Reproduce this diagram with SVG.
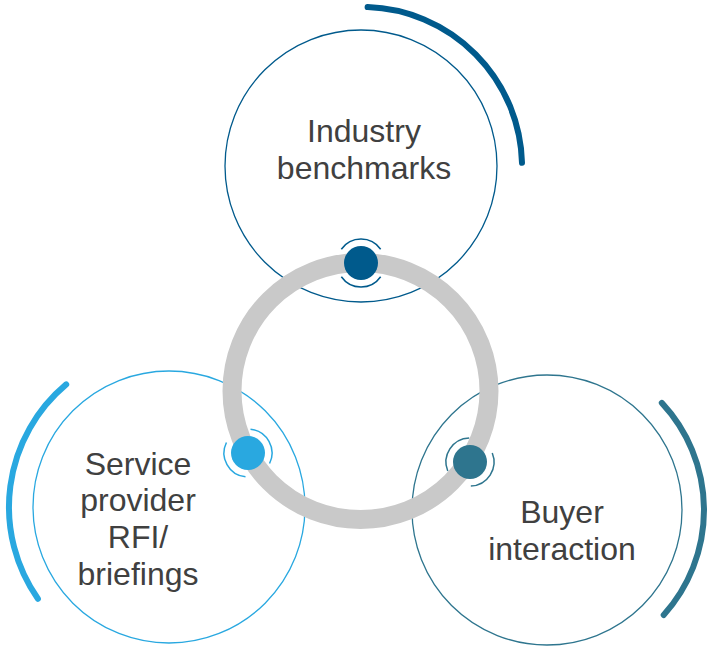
<svg xmlns="http://www.w3.org/2000/svg" xmlns:xlink="http://www.w3.org/1999/xlink" width="710" height="647" viewBox="0 0 710 647">
  <style>
    .outline { fill: none; stroke-width: 1.3; }
    .outer { fill: none; stroke-width: 6; stroke-linecap: round; }
    .label { font-family: "Liberation Sans", Arial, sans-serif; font-size: 32px; fill: #404040; text-anchor: middle; }
    .ring { fill: none; stroke: #C9C9C9; stroke-width: 19; }
    .c1 { stroke: #005A8C; }
    .c2 { stroke: #29A8E0; }
    .c3 { stroke: #2E758E; }
  </style>
  <defs>
    <g id="halo" fill="none" stroke-width="1.5">
      <path d="M-19.66,-13.77 A24,24 0 0 1 19.66,-13.77"/>
      <path d="M19.66,13.77 A24,24 0 0 1 -19.66,13.77"/>
    </g>
  </defs>

  <g id="node-industry">
    <circle class="outline c1" cx="361" cy="166" r="136"/>
    <path class="outer c1" d="M367.6,7.1 A160,160 0 0 1 522,162.8"/>
    <text class="label" x="364" y="142">Industry</text>
    <text class="label" x="364" y="179">benchmarks</text>
  </g>

  <g id="node-service">
    <circle class="outline c2" cx="169" cy="507" r="136"/>
    <path class="outer c2" d="M66.2,384.4 A160,160 0 0 0 37.9,598.8"/>
    <text class="label" x="138" y="475">Service</text>
    <text class="label" x="138" y="511">provider</text>
    <text class="label" x="138" y="548">RFI/</text>
    <text class="label" x="138" y="585">briefings</text>
  </g>

  <g id="node-buyer">
    <circle class="outline c3" cx="547" cy="510" r="135"/>
    <path class="outer c3" d="M661.8,402.9 A157,157 0 0 1 663.7,615"/>
    <text class="label" x="562" y="523">Buyer</text>
    <text class="label" x="562" y="560">interaction</text>
  </g>

  <g id="connectors">
    <circle class="ring" cx="360.5" cy="391" r="128.5"/>
  </g>

  <g id="dot-industry">
    <use xlink:href="#halo" href="#halo" stroke="#005A8C" transform="translate(361,263)"/>
    <circle cx="361" cy="263" r="17" fill="#005A8C"/>
  </g>
  <g id="dot-service">
    <use xlink:href="#halo" href="#halo" stroke="#29A8E0" transform="translate(248,453) rotate(61)"/>
    <circle cx="248" cy="453" r="17" fill="#29A8E0"/>
  </g>
  <g id="dot-buyer">
    <use xlink:href="#halo" href="#halo" stroke="#2E758E" transform="translate(470,462) rotate(123)"/>
    <circle cx="470" cy="462" r="17" fill="#2E758E"/>
  </g>
</svg>
